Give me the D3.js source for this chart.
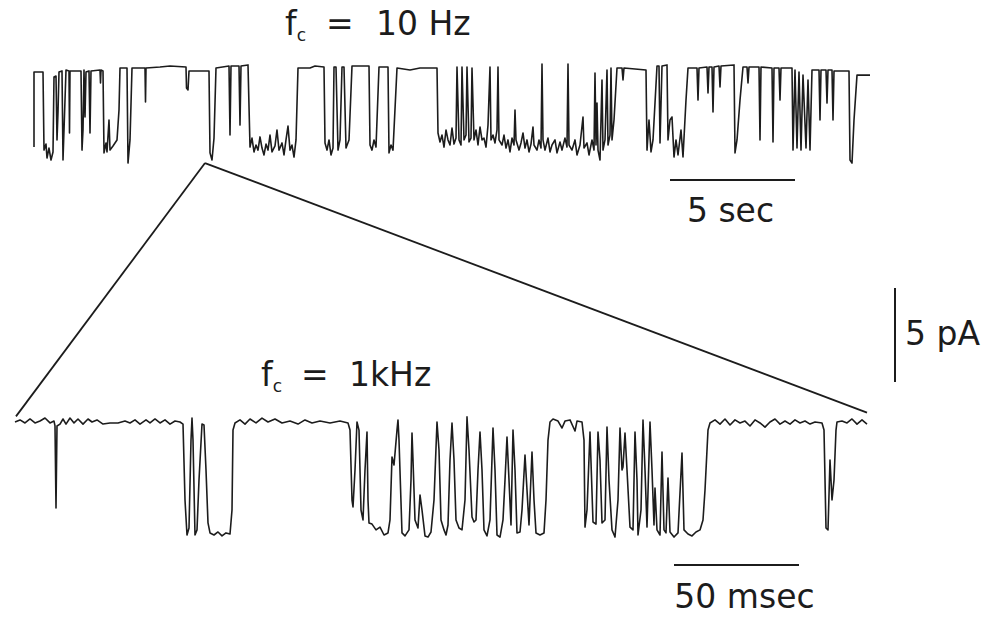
<!DOCTYPE html>
<html>
<head>
<meta charset="utf-8">
<script src="https://cdn.jsdelivr.net/npm/d3@7"></script>
<style>
  body { margin: 0; background: #fff; }
  svg { display: block; }
  .trace { fill: none; stroke: #1c1c1c; stroke-width: 1.6; stroke-linejoin: round; }
  .wedge { stroke: #1c1c1c; stroke-width: 1.8; }
  .bar { stroke: #1c1c1c; stroke-width: 2; }
  .label { font-family: "DejaVu Sans", Verdana, sans-serif; font-size: 33px; fill: #1c1c1c; }
</style>
</head>
<body>
<div id="chart"></div>
<script>
// slow record, filtered at 10 Hz: [time (s), current (pA)]
var slowTrace = [
  [0.04,-4.1],[0.04,-0.11],[0.4,-0.11],[0.44,-4.26],[0.52,-3.94],[0.56,-4.68],[0.64,-4.15],[0.72,-4.79],
  [0.8,-4.36],[0.84,-0.37],[0.92,-0.32],[0.96,-3.72],[1.0,-2.23],[1.04,-0.11],[1.16,-0.05],[1.2,-4.79],
  [1.24,-3.19],[1.32,0],[1.44,-0.05],[1.46,-3.35],[1.48,-0.05],[1.92,-0.05],[1.96,-4.26],[2.0,-3.19],
  [2.04,0],[2.08,-2.5],[2.12,-0.11],[2.24,-0.05],[2.28,-3.35],[2.32,-0.05],[2.68,0],[2.7,-0.69],
  [2.72,0],[2.8,-0.05],[2.84,-4.41],[2.92,-3.88],[2.96,-4.36],[3.04,-2.66],[3.08,-4.26],[3.2,-4.04],
  [3.36,-3.72],[3.44,-2.13],[3.48,0.11],[3.76,0.11],[3.8,-4.95],[3.88,-3.72],[3.96,0.11],[4.48,0.11],
  [4.5,-1.7],[4.52,0.11],[5.08,0.16],[5.48,0.21],[6.12,0.16],[6.14,-0.96],[6.2,-1.06],[6.24,-0.05],
  [7.04,-0.05],[7.08,-4.41],[7.16,-4.79],[7.24,-3.62],[7.32,0.11],[7.84,0.21],[7.88,-3.46],[7.92,0.21],
  [8.24,0.21],[8.28,-2.93],[8.32,0.21],[8.6,0.27],[8.68,-4.1],[8.76,-3.62],[8.84,-4.36],[8.92,-3.99],
  [9.0,-4.26],[9.08,-3.56],[9.16,-4.15],[9.24,-4.52],[9.32,-3.94],[9.4,-4.26],[9.48,-3.46],[9.56,-4.36],
  [9.68,-4.04],[9.76,-3.19],[9.84,-4.26],[9.96,-3.88],[10.04,-4.52],[10.12,-3.72],[10.2,-2.98],[10.28,-4.26],
  [10.36,-3.99],[10.44,-4.63],[10.52,-3.72],[10.6,0.11],[11.08,0.11],[11.28,0.21],[11.64,0.16],[11.68,-3.88],
  [11.76,-4.26],[11.84,-3.72],[11.92,-4.52],[12.0,-4.15],[12.04,0.16],[12.12,0.16],[12.2,-4.26],[12.28,-3.72],
  [12.36,0.16],[12.44,0.16],[12.52,-4.15],[12.64,-3.72],[12.76,0.21],[13.44,0.21],[13.48,-3.99],[13.56,-4.26],
  [13.64,-3.72],[13.72,-4.1],[13.84,0.16],[14.2,0.16],[14.24,-4.41],[14.32,-3.99],[14.4,-4.26],[14.56,0.11],
  [15.08,0],[15.48,0.11],[16.16,0.11],[16.2,-3.35],[16.28,-3.83],[16.36,-3.46],[16.44,-4.1],[16.52,-3.19],
  [16.6,-3.72],[16.68,-3.99],[16.76,-3.09],[16.84,-3.94],[16.92,-3.62],[16.96,0.16],[17.04,-3.72],[17.12,-3.99],
  [17.16,0.16],[17.24,-3.72],[17.32,-3.46],[17.36,0.16],[17.44,-3.83],[17.52,-3.62],[17.56,0.11],[17.64,-3.72],
  [17.72,-3.19],[17.8,-3.99],[17.88,-3.03],[17.96,-3.72],[18.04,-3.62],[18.12,-4.1],[18.2,-2.93],[18.28,0.16],
  [18.32,-3.72],[18.4,-3.46],[18.48,-3.88],[18.56,-3.19],[18.6,0.16],[18.64,-3.72],[18.76,-3.99],[18.84,-3.46],
  [18.92,-4.15],[19.0,-3.72],[19.08,-4.36],[19.16,-3.62],[19.24,-3.99],[19.28,-2.13],[19.32,-3.72],[19.44,-4.26],
  [19.52,-3.88],[19.6,-3.35],[19.68,-4.15],[19.76,-3.72],[19.84,-4.36],[19.92,-3.94],[20.0,-3.03],[20.04,-3.99],
  [20.16,-4.26],[20.24,-3.72],[20.32,-4.15],[20.36,0.32],[20.4,-3.72],[20.48,-4.26],[20.6,-3.62],[20.68,-4.36],
  [20.76,-3.99],[20.88,-3.72],[20.96,-4.41],[21.08,-3.83],[21.16,-4.26],[21.28,-3.62],[21.36,-4.1],[21.4,0.32],
  [21.44,-3.99],[21.56,-4.26],[21.68,-3.72],[21.76,-4.52],[21.88,-3.99],[22.0,-2.5],[22.04,-4.15],[22.16,-3.88],
  [22.24,-4.52],[22.36,-3.72],[22.44,-4.26],[22.48,-0.16],[22.52,-3.99],[22.56,-1.76],[22.6,-4.26],[22.68,-4.79],
  [22.76,-0.53],[22.8,-4.26],[22.88,-3.72],[22.96,0],[23.0,-3.99],[23.08,-3.46],[23.12,0.11],[23.16,-3.72],
  [23.24,-2.66],[23.36,0.11],[23.56,0.11],[23.6,-0.53],[23.64,0.11],[24.52,0],[24.56,-4.26],[24.64,-2.66],
  [24.72,-4.36],[24.8,-3.72],[24.96,0.21],[25.04,0.21],[25.08,-3.88],[25.16,0.21],[25.36,0.27],[25.4,-3.72],
  [25.48,-2.66],[25.56,-2.5],[25.64,-4.63],[25.72,-3.72],[25.8,-4.52],[25.92,-3.19],[26.0,-4.63],[26.12,-1.6],
  [26.2,0.11],[26.56,0.11],[26.6,-1.6],[26.64,0.11],[26.96,0.16],[27.0,-1.22],[27.04,0.16],[27.16,0.16],
  [27.2,-2.23],[27.24,0.16],[27.44,0.21],[27.48,-0.9],[27.52,0.21],[28.04,0.27],[28.08,-4.41],[28.16,-3.72],
  [28.28,-1.6],[28.4,0.16],[28.56,0.16],[28.6,-0.69],[28.64,0.16],[29.04,0.16],[29.08,-3.72],[29.12,0.16],
  [29.56,0.11],[29.6,-3.83],[29.64,0.11],[29.84,0.11],[29.88,-1.6],[29.92,0.11],[30.36,0.11],[30.4,-4.26],
  [30.48,0],[30.56,-4.15],[30.64,-0.11],[30.72,-4.26],[30.8,-0.27],[30.92,-4.15],[31.0,-0.53],[31.08,-4.26],
  [31.16,0],[31.44,0],[31.48,-2.66],[31.52,0],[31.72,0],[31.76,-1.76],[31.8,0],[31.96,0],
  [32.0,-2.66],[32.04,-0.05],[32.64,-0.05],[32.68,-4.79],[32.76,-4.95],[32.84,-2.66],[32.96,-0.27],[33.48,-0.27]
];

// expanded stretch, filtered at 1 kHz: [time (ms), current (pA)]
var fastTrace = [
  [0,0],[2,0.11],[4,-0.05],[6,0.16],[8,-0.05],[10,0.05],[12,0.21],[14,-0.05],
  [15.6,0.05],[16,-0.21],[16.4,-4.57],[16.8,-0.21],[18,-0.11],[19.2,0.16],[20.4,-0.11],[22,0.21],
  [23.6,-0.05],[25.2,0.16],[27.2,-0.11],[29.2,0.16],[30.8,0],[32.8,0.11],[35.2,-0.11],[38,-0.05],
  [41.2,-0.05],[44,0.05],[46,-0.05],[48,0.11],[50,-0.11],[52.4,0.11],[54,-0.05],[56,0.16],
  [58,-0.05],[60,0.11],[62,-0.11],[64,0.05],[66,0],[67.2,-0.11],[68,-4.15],[68.8,-6.01],
  [69.6,-5.64],[70.4,-0.96],[70.8,0.21],[71.2,-0.96],[72,-6.01],[72.8,-5.74],[73.6,-3.09],[74.8,-0.11],
  [75.6,-0.16],[76.4,-2.55],[77.2,-5.37],[78,-5.9],[79.6,-6.01],[81.2,-5.85],[82.8,-6.06],[84.4,-5.9],
  [86,-5.96],[86.8,-4.68],[87.2,-0.43],[88,-0.05],[90,0.11],[92,-0.11],[94,0.16],[96.4,-0.05],
  [98.8,0.21],[101.2,0],[104,0.16],[106.8,-0.05],[110,0.05],[113.2,-0.11],[116,0.11],[118.8,-0.05],
  [122,0.05],[126,-0.05],[130,0.05],[133.2,-0.05],[134,-0.43],[134.8,-4.15],[135.2,-4.52],[136,-2.55],
  [136.8,0],[137.6,-0.43],[138.4,-4.68],[139.2,-5.21],[140,-2.55],[140.8,-0.53],[141.2,-4.15],[141.6,-5.37],
  [142.8,-5.43],[144.4,-5.74],[146,-5.59],[147.6,-6.01],[149.2,-5.9],[150,-5.21],[150.8,-1.86],[151.6,-2.29],
  [152.8,-0.43],[153.2,0.11],[153.6,-0.96],[154.8,-5.9],[156,-6.06],[157.6,-5.74],[158.4,-3.09],[158.8,-0.59],
  [159.2,-2.02],[160,-5.21],[161.2,-5.64],[162,-3.88],[162.8,-4.68],[164,-6.06],[165.2,-6.12],[166.4,-5.85],
  [167.6,-4.15],[168.8,0],[169.6,-1.49],[170.4,-5.21],[171.6,-5.74],[172.4,-6.01],[173.2,-5.48],[174,-2.02],
  [174.8,-0.05],[175.6,-2.02],[176.4,-5.21],[177.6,-5.64],[178.8,-5.74],[180,-4.15],[180.8,0.27],[181.6,-1.49],
  [182.8,-5.05],[183.6,-5.32],[184.4,-5.21],[185.2,-2.55],[186,-0.53],[186.8,-2.55],[187.6,-5.74],[188.8,-6.06],
  [190,-5.21],[191.2,-0.32],[192,-2.55],[192.8,-6.01],[194,-6.12],[195.2,-5.21],[196,-3.09],[196.8,-0.8],
  [197.6,-3.09],[198.4,-5.48],[199.2,-0.43],[200,-2.55],[200.8,-5.9],[202,-5.85],[202.8,-4.68],[204,-1.76],
  [204.8,-3.62],[205.6,-5.48],[206.8,-1.6],[207.6,-4.15],[208.4,-5.9],[210,-6.01],[211.6,-5.9],[212.4,-4.15],
  [213.2,-0.96],[214,0],[215.2,0.16],[217.2,0.05],[218.8,-0.32],[220,0.05],[222,0.11],[224,-0.48],
  [224.8,0.05],[226.8,0],[227.6,-0.96],[228,-5.59],[228.8,-4.68],[230,-0.53],[231.2,-5.32],[232.4,-5.43],
  [233.2,-0.53],[234,-2.02],[234.8,-5.37],[236,-5.21],[236.8,-0.27],[237.6,-3.09],[238.8,-5.74],[240,-6.12],
  [241.2,-4.15],[242,-0.32],[242.8,-2.55],[243.2,-2.39],[244,-0.59],[244.8,-2.55],[246,-5.59],[247.2,-5.74],
  [248,-0.53],[248.8,-3.09],[249.2,-6.01],[250.4,-4.68],[251.2,0.11],[252,-2.55],[252.8,-5.59],[254,0],
  [254.8,-2.55],[255.6,-5.48],[256,-3.51],[256.8,-5.74],[258,-6.01],[258.8,-1.6],[259.6,-5.74],[260.4,-5.9],
  [261.2,-2.98],[262,-5.85],[263.6,-6.12],[265.2,-5.9],[266.8,-1.65],[267.6,-5.74],[269.2,-5.96],[270.8,-6.06],
  [272.4,-5.85],[274,-5.74],[275.2,-5.21],[276,-3.62],[277.2,-0.43],[278,-0.05],[280,0.11],[282,-0.11],
  [284,0.16],[286,-0.16],[288,0.11],[290,-0.05],[292,0.05],[294,-0.21],[296,0.11],[298,-0.05],
  [300,-0.27],[302,0],[304,0.16],[306,-0.11],[308,0.05],[310,-0.11],[312,0.11],[314,-0.05],
  [316,0.05],[318,-0.11],[320,0],[322.8,-0.05],[323.6,-0.43],[324.4,-5.64],[325.2,-5.74],[326,-2.02],
  [326.8,-4.15],[327.6,-3.09],[328.4,-0.43],[328.8,0],[330.8,0.05],[332.8,-0.05],[334.8,0.16],[336.8,-0.11],
  [338.8,0.11],[340.8,-0.11]
];

// where the expanded stretch sits on the slow record, and the ends of the expanded record
var zoomFrom = [6.88, -4.95];           // s, pA on the slow record
var zoomTo = [[0.4, 0.3], [340.8, 0.5]]; // ms, pA on the fast record

// scale bars
var slowBar = [25.48, 30.48];   // 5 s
var fastBar = [263.6, 313.6];   // 50 ms
var currentBar = [2.13, 7.13];  // 5 pA

var width = 990, height = 617;

window.onload = () => {
  var svg = d3.select("#chart").append("svg")
    .attr("width", width)
    .attr("height", height);

  // 25 px per second, 2.5 px per ms, 18.8 px per pA
  var xSlow = d3.scaleLinear().domain([0, 33.48]).range([33, 870]);
  var ySlow = d3.scaleLinear().domain([0, -5]).range([70, 164]);
  var xFast = d3.scaleLinear().domain([0, 341.2]).range([15, 868]);
  var yFast = d3.scaleLinear().domain([0, -5]).range([422, 516]);

  var slowLine = d3.line()
    .x(d => xSlow(d[0]))
    .y(d => ySlow(d[1]));
  var fastLine = d3.line()
    .x(d => xFast(d[0]))
    .y(d => yFast(d[1]));

  // zoom wedge
  zoomTo.forEach(p => {
    svg.append("line")
      .attr("class", "wedge")
      .attr("x1", xSlow(zoomFrom[0]))
      .attr("y1", ySlow(zoomFrom[1]))
      .attr("x2", xFast(p[0]))
      .attr("y2", yFast(p[1]));
  });

  svg.append("path")
    .datum(slowTrace)
    .attr("class", "trace")
    .attr("d", slowLine);

  svg.append("path")
    .datum(fastTrace)
    .attr("class", "trace")
    .attr("d", fastLine);

  // scale bars
  svg.append("line")
    .attr("class", "bar")
    .attr("x1", xSlow(slowBar[0])).attr("x2", xSlow(slowBar[1]))
    .attr("y1", 180).attr("y2", 180);
  svg.append("text")
    .attr("class", "label")
    .attr("x", xSlow((slowBar[0] + slowBar[1]) / 2) - 2)
    .attr("y", 222)
    .attr("text-anchor", "middle")
    .text("5 sec");

  svg.append("line")
    .attr("class", "bar")
    .attr("x1", xFast(fastBar[0])).attr("x2", xFast(fastBar[1]))
    .attr("y1", 565).attr("y2", 565);
  svg.append("text")
    .attr("class", "label")
    .attr("x", xFast((fastBar[0] + fastBar[1]) / 2) + 8)
    .attr("y", 608)
    .attr("text-anchor", "middle")
    .text("50 msec");

  svg.append("line")
    .attr("class", "bar")
    .attr("x1", 895).attr("x2", 895)
    .attr("y1", yFast(currentBar[0])).attr("y2", yFast(currentBar[1]));
  svg.append("text")
    .attr("class", "label")
    .attr("x", 905)
    .attr("y", 345)
    .text("5 pA");

  // filter labels: f with subscript c, then the cut-off
  function filterLabel(x, y, eqX, value, valueX) {
    var t = svg.append("text")
      .attr("class", "label")
      .attr("x", x)
      .attr("y", y);
    t.append("tspan").text("f");
    t.append("tspan")
      .attr("font-size", 17)
      .attr("dy", 6)
      .text("c");
    t.append("tspan")
      .attr("x", eqX)
      .attr("dy", -6)
      .text("=");
    t.append("tspan")
      .attr("x", valueX)
      .text(value);
  }
  filterLabel(285, 35, 326, "10 Hz", 376);
  filterLabel(261, 386, 301, "1kHz", 349);
};
</script>
</body>
</html>
